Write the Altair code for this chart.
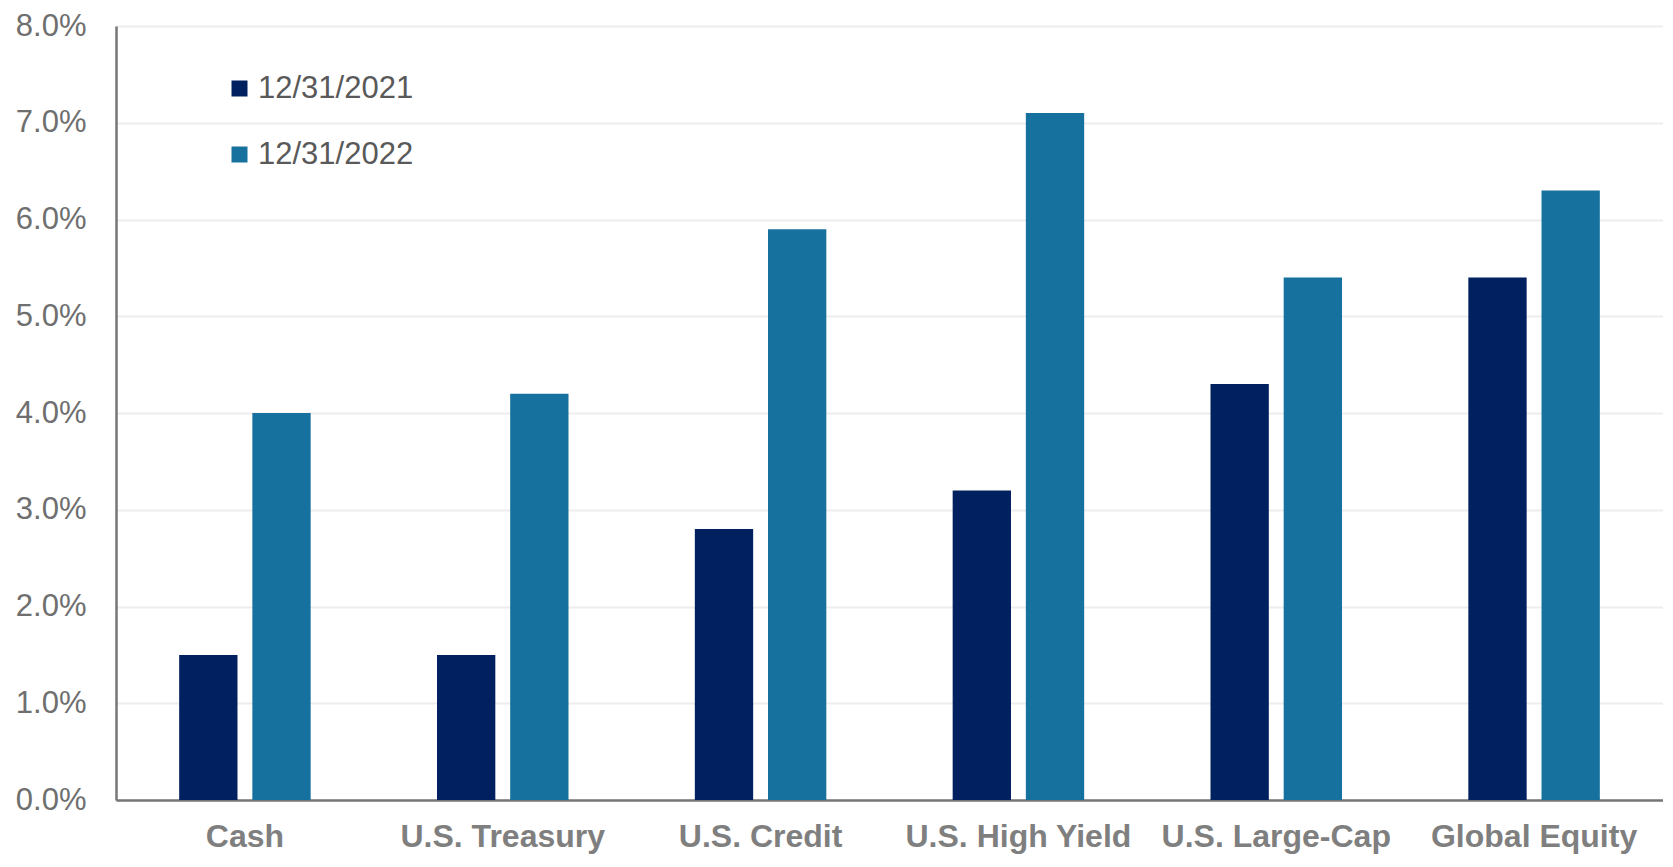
import altair as alt
import pandas as pd

categories = ["Cash", "U.S. Treasury", "U.S. Credit", "U.S. High Yield", "U.S. Large-Cap", "Global Equity"]
series = ["12/31/2021", "12/31/2022"]
values_2021 = [1.5, 1.5, 2.8, 3.2, 4.3, 5.4]
values_2022 = [4.0, 4.2, 5.9, 7.1, 5.4, 6.3]
colors = ["#00205F", "#16719E"]

rows = []
for c, a, b in zip(categories, values_2021, values_2022):
    rows.append({"cat": c, "series": series[0], "value": a / 100})
    rows.append({"cat": c, "series": series[1], "value": b / 100})
df = pd.DataFrame(rows)

FONT = "Liberation Sans"

chart = alt.Chart(df).mark_bar().encode(
    x=alt.X("cat:N", sort=categories, title=None,
            scale=alt.Scale(paddingInner=0.49, paddingOuter=0.245),
            axis=alt.Axis(labelAngle=0, labelFontSize=32, labelFontWeight="bold",
                          labelColor="#7F7F7F", labelFont=FONT, ticks=False, labelLimit=0,
                          labelPadding=21, domainColor="#767676", domainWidth=2.5)),
    xOffset=alt.XOffset("series:N", sort=series,
                        scale=alt.Scale(paddingInner=0.203, paddingOuter=0)),
    y=alt.Y("value:Q", title=None,
            scale=alt.Scale(domain=[0, 0.08], nice=False),
            axis=alt.Axis(format=".1%", values=[i / 100 for i in range(9)],
                          labelFontSize=31, labelColor="#6F6F6F", labelFont=FONT,
                          ticks=False, labelPadding=30, domainColor="#767676",
                          domainWidth=2.5, gridColor="#EDEDED", gridWidth=2)),
    color=alt.Color("series:N", sort=series,
                    scale=alt.Scale(domain=series, range=colors),
                    legend=alt.Legend(title=None, orient="none", legendX=108, legendY=47,
                                      symbolType="square", symbolSize=256,
                                      symbolStrokeWidth=0, labelFontSize=31,
                                      labelColor="#595959", labelFont=FONT, labelLimit=0,
                                      rowPadding=34, labelOffset=3)),
).properties(
    width=1547, height=774,
    autosize=alt.AutoSizeParams(type="none"),
    padding={"left": 108, "top": 18, "right": 0, "bottom": 55},
).configure_view(stroke=None)

chart.save("out.html", embed_options={"renderer": "svg", "actions": False})
